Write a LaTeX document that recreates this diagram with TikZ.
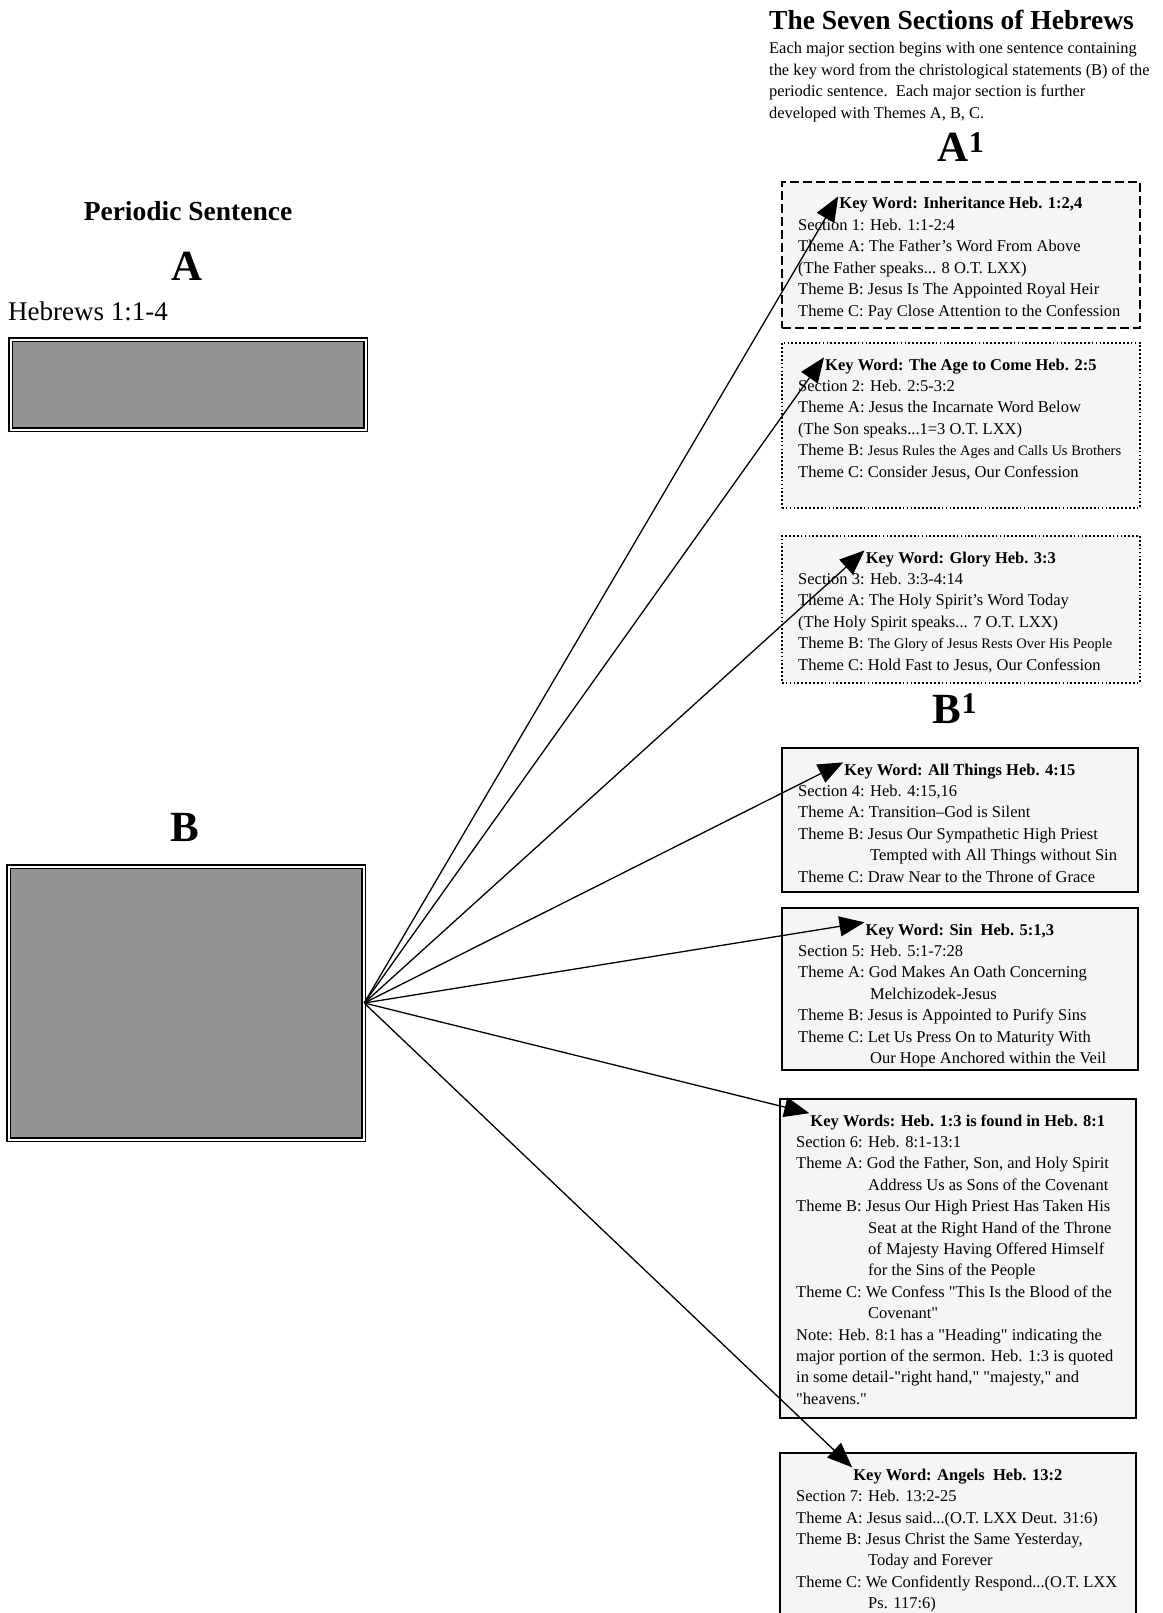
\documentclass[tikz,border=0pt]{standalone}
\usepackage{fontspec}
\setmainfont{Liberation Serif}
\usetikzlibrary{calc,positioning,arrows.meta}

\newcommand{\ind}{\hspace*{72pt}}
\newcommand{\narrow}[1]{{\fontsize{14.5}{21.4}\selectfont #1}}
\newcommand{\q}{\textquotedbl}

\begin{document}
\begin{tikzpicture}[x=1pt, y=-1pt,
	>={Triangle[length=25pt, width=20pt]},
	heading/.style={font=\fontsize{27.5}{32}\selectfont\bfseries, inner sep=0pt, anchor=base},
	bigletter/.style={font=\fontsize{43}{48}\selectfont\bfseries, inner sep=0pt, anchor=base},
	psbox/.style={draw, line width=1.4pt, double=white, double distance=2pt, fill=black!42, minimum width=355pt},
	secbox/.style={draw, line width=1.7pt, fill=black!4, anchor=north west},
	dashbox/.style={dash pattern=on 9pt off 4pt},
	dotbox/.style={dash pattern=on 1.7pt off 2.2pt},
	kwtext/.style={font=\fontsize{16.5}{21.4}\selectfont\bfseries, inner sep=1pt, anchor=base},
	sectext/.style={font=\fontsize{16.5}{21.4}\selectfont, inner sep=0pt, align=left},
	link/.style={->, line width=1.3pt}]
	\clip (0,0) rectangle (1162,1613);

	\node[heading, anchor=base west] (title) at (769,30) {The Seven Sections of Hebrews};
	\node[sectext, font=\fontsize{16.4}{21.5}\selectfont, anchor=north west] (intro) at (769,38.5) {\strut Each major section begins with one sentence containing\\the key word from the christological statements (B) of the\\periodic sentence.\ \ Each major section is further\\developed with Themes A, B, C.};
	\node[bigletter] (a1) at (961,162) {A\textsuperscript{1}};
	\node[bigletter] (b1) at (955,723) {B\textsuperscript{1}};

	\node[heading] (periodic) at (188,221) {Periodic Sentence};
	\node[bigletter] (alabel) at (187,280) {A};
	\node[font=\fontsize{27}{32}\selectfont, inner sep=0pt, anchor=base west] (heb) at (8,320) {Hebrews 1:1-4};
	\node[psbox, minimum height=90pt] (A) at (188,384.5) {};
	\node[bigletter] (blabel) at (185,841) {B};
	\node[psbox, minimum height=273pt] (B) at (186,1003) {};

	\node[secbox, dashbox, minimum width=358pt, minimum height=146pt] (s1) at (781,181) {};
	\node[kwtext] (kw1) at ($(s1.north)+(0,28)$) {Key Word: Inheritance Heb. 1:2,4};
	\node[sectext, below right=34.4pt and 17pt of s1.north west] (s1txt) {\strut Section 1: Heb. 1:1-2:4\\Theme A: The Father's Word From Above\\(The Father speaks... 8 O.T. LXX)\\Theme B: Jesus Is The Appointed Royal Heir\\Theme C: Pay Close Attention to the Confession};

	\node[secbox, dotbox, minimum width=358pt, minimum height=165pt] (s2) at (781,342) {};
	\node[kwtext] (kw2) at ($(s2.north)+(0,28)$) {Key Word: The Age to Come Heb. 2:5};
	\node[sectext, below right=34.4pt and 17pt of s2.north west] (s2txt) {\strut Section 2: Heb. 2:5-3:2\\Theme A: Jesus the Incarnate Word Below\\(The Son speaks...1=3 O.T. LXX)\\Theme B: \narrow{Jesus Rules the Ages and Calls Us Brothers}\\Theme C: Consider Jesus, Our Confession};

	\node[secbox, dotbox, minimum width=358pt, minimum height=147pt] (s3) at (781,535) {};
	\node[kwtext] (kw3) at ($(s3.north)+(0,28)$) {Key Word: Glory Heb. 3:3};
	\node[sectext, below right=34.4pt and 17pt of s3.north west] (s3txt) {\strut Section 3: Heb. 3:3-4:14\\Theme A: The Holy Spirit's Word Today\\(The Holy Spirit speaks... 7 O.T. LXX)\\Theme B: \narrow{The Glory of Jesus Rests Over His People}\\Theme C: Hold Fast to Jesus, Our Confession};

	\node[secbox, minimum width=356pt, minimum height=144pt] (s4) at (781,747) {};
	\node[kwtext] (kw4) at ($(s4.north)+(0,28)$) {Key Word: All Things Heb. 4:15};
	\node[sectext, below right=34.4pt and 17pt of s4.north west] (s4txt) {\strut Section 4: Heb. 4:15,16\\Theme A: Transition--God is Silent\\Theme B: Jesus Our Sympathetic High Priest\\\ind Tempted with All Things without Sin\\Theme C: Draw Near to the Throne of Grace};

	\node[secbox, minimum width=356pt, minimum height=162pt] (s5) at (781,907) {};
	\node[kwtext] (kw5) at ($(s5.north)+(0,28)$) {Key Word: Sin\ \ Heb. 5:1,3};
	\node[sectext, below right=34.4pt and 17pt of s5.north west] (s5txt) {\strut Section 5: Heb. 5:1-7:28\\Theme A: God Makes An Oath Concerning\\\ind Melchizodek-Jesus\\Theme B: Jesus is Appointed to Purify Sins\\Theme C: Let Us Press On to Maturity With\\\ind Our Hope Anchored within the Veil};

	\node[secbox, minimum width=356pt, minimum height=319pt] (s6) at (779,1098) {};
	\node[kwtext] (kw6) at ($(s6.north)+(0,28)$) {Key Words: Heb. 1:3 is found in Heb. 8:1};
	\node[sectext, below right=34.4pt and 17pt of s6.north west] (s6txt) {\strut Section 6: Heb. 8:1-13:1\\Theme A: God the Father, Son, and Holy Spirit\\\ind Address Us as Sons of the Covenant\\Theme B: Jesus Our High Priest Has Taken His\\\ind Seat at the Right Hand of the Throne\\\ind of Majesty Having Offered Himself\\\ind for the Sins of the People\\Theme C: We Confess \q This Is the Blood of the\\\ind Covenant\q\\Note: Heb. 8:1 has a \q Heading\q\ indicating the\\major portion of the sermon. Heb. 1:3 is quoted\\in some detail-\q right hand,\q\ \q majesty,\q\ and\\\q heavens.\q};

	\node[secbox, minimum width=356pt, minimum height=200pt] (s7) at (779,1452) {};
	\node[kwtext] (kw7) at ($(s7.north)+(0,28)$) {Key Word: Angels\ \ Heb. 13:2};
	\node[sectext, below right=34.4pt and 17pt of s7.north west] (s7txt) {\strut Section 7: Heb. 13:2-25\\Theme A: Jesus said...(O.T. LXX Deut. 31:6)\\Theme B: Jesus Christ the Same Yesterday,\\\ind Today and Forever\\Theme C: We Confidently Respond...(O.T. LXX\\\ind Ps. 117:6)};

	\foreach \s in {1,...,7}
		\draw[link] (B.east) -- (kw\s.north west);
\end{tikzpicture}
\end{document}
